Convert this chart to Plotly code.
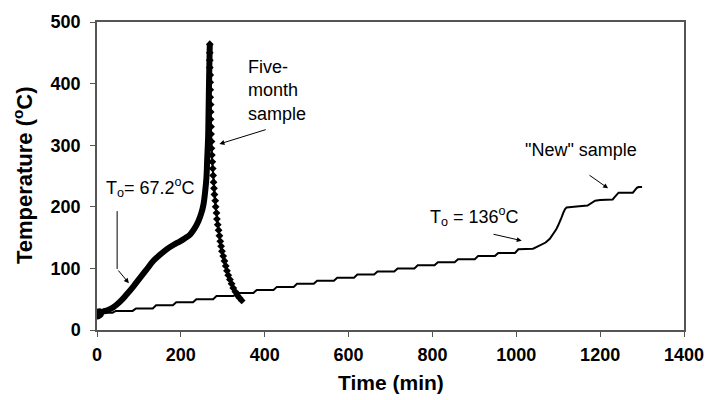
import plotly.graph_objects as go

# ---- Five-month sample (rising part, then falling branch with diamond markers)
rise_time = [0, 5, 15, 25, 39, 55, 71, 87, 103, 118, 134, 150, 166, 182, 198, 210, 222, 232, 242, 249, 254, 258, 261, 263, 265, 266, 267, 268, 269]
rise_temp = [25, 27, 30, 32, 37, 46, 58, 71, 85, 98, 112, 122, 131, 138, 144, 149, 155, 164, 177, 190, 204, 225, 247, 280, 312, 350, 393, 430, 464]

fall_time = [269, 269, 269, 269, 270, 270, 270, 270, 271, 271, 271, 272, 272, 273, 273, 274, 275, 276, 277, 278, 279, 280, 282, 283, 285, 286, 288, 290, 292, 294, 296, 298, 301, 304, 307, 310, 313, 317, 321, 325, 330, 335, 340, 345]
fall_temp = [464, 450, 438, 426, 414, 402, 390, 378, 366, 354, 342, 330, 318, 306, 295, 284, 273, 262, 251, 240, 230, 220, 210, 200, 190, 180, 171, 162, 153, 144, 136, 128, 120, 112, 104, 96, 89, 82, 75, 68, 62, 56, 52, 48]

# ---- "New" sample: step heating plateaus, then runaway region
step_start = [0, 45, 93, 141, 189, 237, 285, 333, 381, 429, 477, 525, 573, 621, 669, 717, 765, 813, 861, 909, 957, 1005]
step_temp = [28, 31, 35, 40, 45, 50, 55, 60, 65, 70, 75, 80, 85, 90, 95, 100, 105, 110, 115, 120, 125, 131]
tail_time = [1040, 1049, 1060, 1070, 1080, 1088, 1095, 1100, 1105, 1108, 1112, 1116, 1120, 1130, 1150, 1170, 1176, 1182, 1188, 1200, 1230, 1235, 1240, 1244, 1260, 1278, 1283, 1288, 1292, 1300]
tail_temp = [132, 135, 138, 142, 148, 155, 163, 170, 177, 183, 190, 196, 199, 200, 201, 202, 205, 208, 210, 211, 212, 216, 221, 223, 223, 223, 227, 231, 232, 232]

x_ticks = [0, 200, 400, 600, 800, 1000, 1200, 1400]
y_ticks = [0, 100, 200, 300, 400, 500]

RAMP = 8
new_x, new_y = [], []
for i, (t, T) in enumerate(zip(step_start, step_temp)):
    if i > 0:
        new_x.append(t - RAMP)
        new_y.append(step_temp[i - 1])
    new_x.append(t)
    new_y.append(T)
new_x.extend(tail_time)
new_y.extend(tail_temp)

fig = go.Figure()
fig.add_trace(go.Scatter(x=new_x, y=new_y, mode="lines",
                         line=dict(color="black", width=2), showlegend=False))
fig.add_trace(go.Scatter(x=rise_time, y=rise_temp, mode="lines",
                         line=dict(color="black", width=6, shape="spline"), showlegend=False))
fig.add_trace(go.Scatter(x=rise_time[:2], y=rise_temp[:2], mode="markers",
                         marker=dict(color="black", size=10), showlegend=False))
fig.add_trace(go.Scatter(x=fall_time, y=fall_temp, mode="lines+markers",
                         line=dict(color="black", width=2),
                         marker=dict(color="black", size=6, symbol="diamond"), showlegend=False))

FONT = "Liberation Sans, Arial, sans-serif"
ann_font = dict(family=FONT, size=18, color="black")
arrow = dict(showarrow=True, arrowhead=2, arrowsize=1, arrowwidth=1, arrowcolor="black",
             xref="x", yref="y", axref="x", ayref="y", text="")

annotations = [
    dict(x=355, y=446, xref="x", yref="y", text="Five-<br>month<br>sample", showarrow=False,
         xanchor="left", yanchor="top", align="left", font=ann_font),
    dict(x=17, y=232, xref="x", yref="y", text="T<sub>o</sub>= 67.2<sup>o</sup>C", showarrow=False,
         xanchor="left", yanchor="middle", font=ann_font),
    dict(x=790, y=185, xref="x", yref="y", text="T<sub>o</sub> = 136<sup>o</sup>C", showarrow=False,
         xanchor="left", yanchor="middle", font=ann_font),
    dict(x=1017, y=292, xref="x", yref="y", text="\"New\" sample", showarrow=False,
         xanchor="left", yanchor="middle", font=ann_font),
    dict(arrow, x=292, y=302, ax=406, ay=326),
    dict(arrow, x=1013, y=145, ax=942, ay=156),
    dict(arrow, x=1219, y=230, ax=1171, ay=253),
    dict(arrow, x=76, y=76, ax=48, ay=99),
    # axis titles
    dict(x=0.5, y=-0.172, xref="paper", yref="paper", text="<b>Time (min)</b>", showarrow=False,
         xanchor="center", yanchor="middle", font=dict(family=FONT, size=21, color="black")),
    dict(x=-0.126, y=0.503, xref="paper", yref="paper", text="<b>Temperature (<sup>o</sup>C)</b>",
         showarrow=False, textangle=-90, xanchor="center", yanchor="middle",
         font=dict(family=FONT, size=22, color="black")),
]
fig.update_layout(annotations=annotations)
# vertical leader of the To = 67.2 arrow
fig.add_shape(type="line", x0=48, y0=193, x1=48, y1=99, xref="x", yref="y",
              line=dict(color="black", width=1))

tickfont = dict(family=FONT, size=18, color="black", weight="bold")
axis_common = dict(showline=True, linecolor="#555555", linewidth=1.5, mirror=True,
                   ticks="outside", ticklen=5, tickcolor="#555555", showgrid=False,
                   zeroline=False, tickfont=tickfont, automargin=False)
fig.update_xaxes(range=[0, 1400], tickvals=x_ticks, ticktext=[str(v) for v in x_ticks],
                 ticklabelstandoff=3, **axis_common)
fig.update_yaxes(range=[0, 500], tickvals=y_ticks, ticktext=[str(v) for v in y_ticks],
                 ticklabelstandoff=6, **axis_common)

fig.update_layout(width=707, height=400, margin=dict(l=97, r=23, t=22, b=70, autoexpand=False),
                  plot_bgcolor="white", paper_bgcolor="white")
fig.write_html("out.html", config={"displayModeBar": False},
               post_script="document.body.style.margin='0';")
